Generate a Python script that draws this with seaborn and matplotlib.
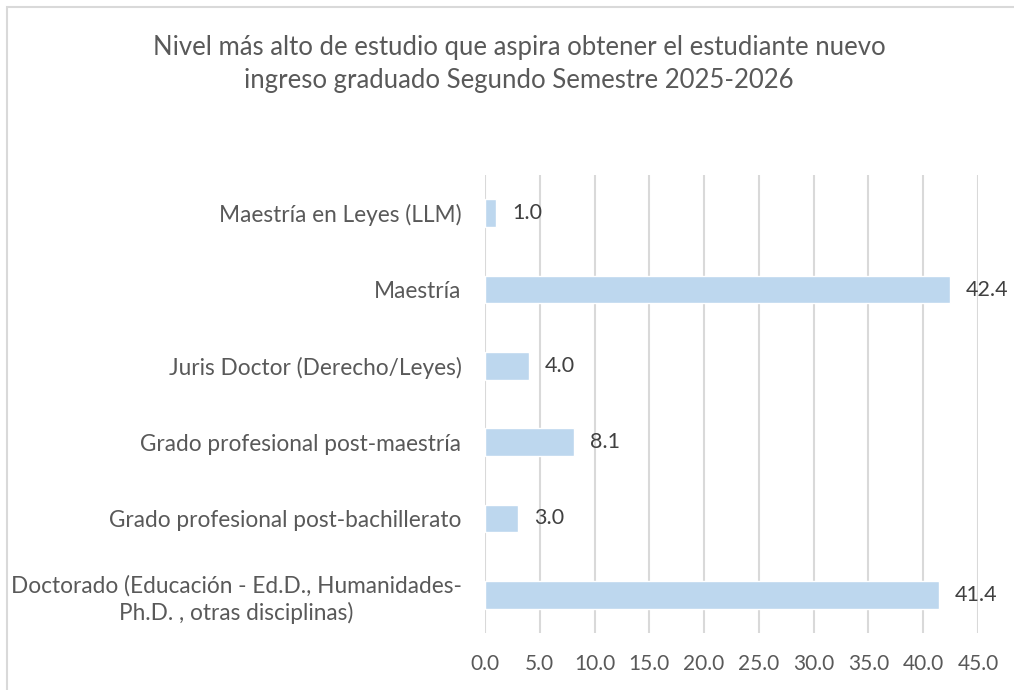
import matplotlib
matplotlib.use("Agg")
import matplotlib.pyplot as plt
import seaborn as sns
import pandas as pd

# Datos
categorias = [
    "Maestría en Leyes (LLM)",
    "Maestría",
    "Juris Doctor (Derecho/Leyes)",
    "Grado profesional post-maestría",
    "Grado profesional post-bachillerato",
    "Doctorado (Educación - Ed.D., Humanidades-\nPh.D. , otras disciplinas)",
]
porcentajes = [1.0, 42.4, 4.0, 8.1, 3.0, 41.4]
ticks_x = [0, 5, 10, 15, 20, 25, 30, 35, 40, 45]

titulo = ("Nivel más alto de estudio que aspira obtener el estudiante nuevo\n"
          "ingreso graduado Segundo Semestre 2025-2026")

df = pd.DataFrame({"categoria": categorias, "porcentaje": porcentajes})

sns.set_style("white")
plt.rcParams["font.family"] = ["Lato", "DejaVu Sans"]

fig = plt.figure(figsize=(10.14, 6.9), dpi=100)
ax = fig.add_axes([485 / 1014, 57 / 690, 493 / 1014, 458 / 690])

sns.barplot(data=df, x="porcentaje", y="categoria", color="#BDD7EE",
            width=0.36, saturation=1, ax=ax, zorder=2)

ax.set_xlim(0, 45)
ax.set_ylim(5.5, -0.5)
ax.set_xticks(ticks_x)
ax.set_xticklabels([f"{t:.1f}" for t in ticks_x])
ax.grid(axis="x", color="#D9D9D9", linewidth=1.5, zorder=0)
ax.set_axisbelow(True)
for s in ax.spines.values():
    s.set_visible(False)
ax.set_xlabel("")
ax.set_ylabel("")
ax.tick_params(axis="x", length=0, pad=15, labelsize=15, colors="#595959")
ax.tick_params(axis="y", length=0, pad=17, labelsize=16.3, colors="#595959")
for lbl in ax.get_yticklabels():
    lbl.set_multialignment("center")
    lbl.set_linespacing(1.3)

# Etiquetas de valor
for i, v in enumerate(porcentajes):
    ax.text(v + 1.45, i, f"{v:.1f}", va="center", ha="left",
            fontsize=15.5, color="#404040")

fig.text(519 / 1014, 1 - 64 / 690, titulo, ha="center", va="center",
         fontsize=18.5, color="#595959", linespacing=1.42)

# Borde del gráfico
borde = plt.Rectangle((7 / 1014, -0.1), 1.2, 1 - 7 / 690 + 0.1,
                      transform=fig.transFigure, fill=False,
                      edgecolor="#D9D9D9", linewidth=1.5)
fig.patches.append(borde)

fig.savefig("out.png", dpi=100)
